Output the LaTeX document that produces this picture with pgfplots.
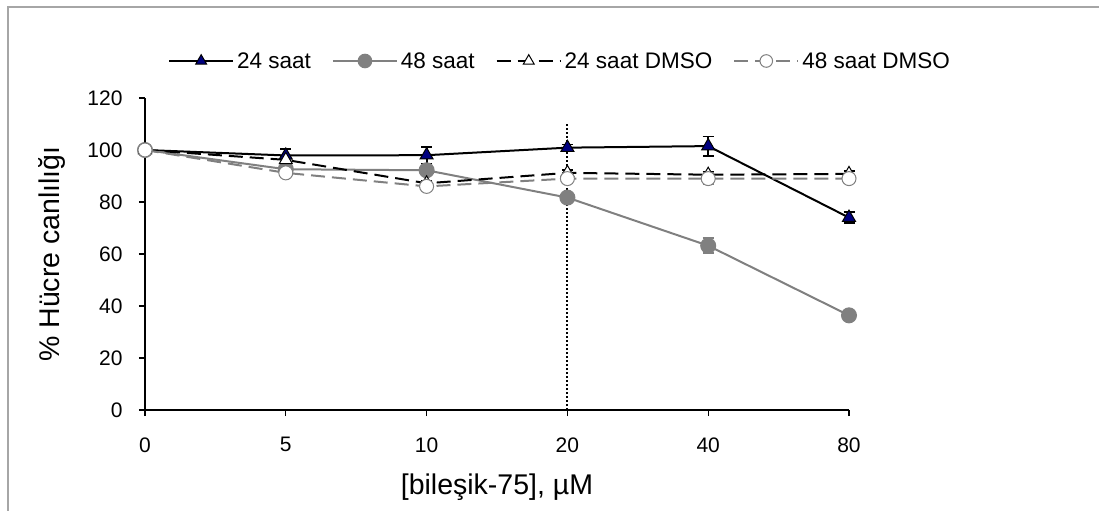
\documentclass[border=0pt]{standalone}
\usepackage{pgfplots}
\pgfplotsset{compat=1.18}
\usepackage{pgfplotstable}
\usepackage{fontspec}
\setmainfont{Liberation Sans}
\definecolor{navyb}{RGB}{0,0,128}
\definecolor{xgray}{RGB}{128,128,128}
\pgfplotstableread{
x y e
0 100 0
1 97.9 2.5
2 98.0 3.2
3 100.9 1.2
4 101.5 3.7
5 74.0 2.0
}\tsaat
\pgfplotstableread{
x y e
0 100 0
1 92.6 1.0
2 92.2 1.5
3 81.7 1.0
4 63.2 2.8
5 36.4 0.8
}\fsaat
\pgfplotstableread{
x y e
0 100 0
1 96.2 1.5
2 87.2 1.0
3 91.2 1.0
4 90.5 1.0
5 90.8 1.0
}\tdmso
\pgfplotstableread{
x y e
0 100 0
1 91.2 1.0
2 86.0 1.0
3 89.0 1.0
4 89.0 2.0
5 89.0 1.0
}\fdmso
\begin{document}
\begin{tikzpicture}
\path[use as bounding box] (-145bp,-101bp) rectangle (954bp,410bp);
\draw[gray!70, line width=1.2bp] (-137bp,-101bp) -- (-137bp,403bp) -- (954bp,403bp);
\begin{axis}[
  at={(0,0)}, anchor=south west,
  scale only axis, width=704bp, height=312bp,
  xmin=0, xmax=5, ymin=0, ymax=120,
  clip=false,
  axis lines=left,
  axis line style={line width=1.5bp, black, -},
  xtick={0,1,2,3,4,5}, xticklabels={0,5,10,20,40,80},
  ytick={0,20,40,60,80,100,120},
  tick align=outside, major tick length=6bp,
  tick style={line width=1.2bp, black},
  /pgf/number format/assume math mode=true,
  every tick label/.append style={font=\fontsize{21bp}{24bp}\selectfont},
  xticklabel style={yshift=-18bp},
  yticklabel style={xshift=-13bp},
  xlabel={[bileşik-75], µM},
  ylabel={\% Hücre canlılığı},
  every axis x label/.style={at={(axis description cs:0.5,0)}, anchor=center, yshift=-77bp, font=\fontsize{28.5bp}{32bp}\selectfont},
  every axis y label/.style={at={(axis description cs:-0.1321,0.5)}, anchor=center, rotate=90, font=\fontsize{28.5bp}{32bp}\selectfont},
  legend columns=4,
  legend style={at={(axis description cs:0.5895,1.1186)}, anchor=center, draw=none, fill=none,
    font=\fontsize{22.5bp}{26bp}\selectfont,
    /tikz/every odd column/.append style={column sep=1bp},
    /tikz/every even column/.append style={column sep=19bp}},
  legend image code/.code={\draw[mark repeat=2,mark phase=2,#1,mark size=6.3bp] plot coordinates {(0bp,0bp)(32bp,0bp)(64bp,0bp)};},
]
\addplot[black, line width=2bp, mark=triangle*, mark size=7.5bp,
  mark options={fill=navyb, draw=black, line width=1bp, solid},
  error bars/.cd, y dir=both, y explicit, error bar style={black, line width=1.8bp, solid}, error mark=-, error mark options={rotate=90, black, mark size=5.5bp, line width=1.8bp, solid}]
  table[x=x, y=y, y error=e] {\tsaat};
\addlegendentry{24 saat}
\addplot[xgray, line width=2bp, mark=*, mark size=7bp,
  mark options={fill=xgray, draw=xgray, solid},
  error bars/.cd, y dir=both, y explicit, error bar style={xgray, line width=1.8bp, solid}, error mark=-, error mark options={rotate=90, xgray, mark size=5.5bp, line width=1.8bp, solid}]
  table[x=x, y=y, y error=e] {\fsaat};
\addlegendentry{48 saat}
\addplot[black, line width=2bp, dash pattern=on 14bp off 7bp, mark=triangle*, mark size=7.5bp,
  mark options={fill=white, draw=black, line width=1bp, solid},
  error bars/.cd, y dir=both, y explicit, error bar style={black, line width=1.8bp, solid}, error mark=-, error mark options={rotate=90, black, mark size=5.5bp, line width=1.8bp, solid}]
  table[x=x, y=y, y error=e] {\tdmso};
\addlegendentry{24 saat DMSO}
\addplot[xgray, line width=2bp, dash pattern=on 14bp off 7bp, mark=*, mark size=7bp,
  mark options={fill=white, draw=xgray, line width=1bp, solid},
  error bars/.cd, y dir=both, y explicit, error bar style={xgray, line width=1.8bp, solid}, error mark=-, error mark options={rotate=90, xgray, mark size=5.5bp, line width=1.8bp, solid}]
  table[x=x, y=y, y error=e] {\fdmso};
\addlegendentry{48 saat DMSO}
\draw[black, line width=2bp, dash pattern=on 2bp off 2bp] (axis cs:3,0) -- (axis cs:3,110);
\end{axis}
\end{tikzpicture}
\end{document}
